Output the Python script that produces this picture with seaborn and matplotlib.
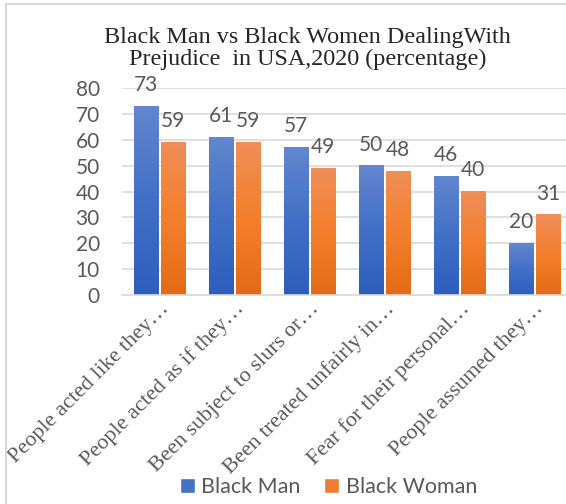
import matplotlib
matplotlib.use("Agg")
import matplotlib.pyplot as plt
from matplotlib.colors import LinearSegmentedColormap
import seaborn as sns
import numpy as np
import pandas as pd

categories = [
    "People acted like they\u2026",
    "People acted as if they\u2026",
    "Been subject to slurs or\u2026",
    "Been treated unfairly in\u2026",
    "Fear for their personal\u2026",
    "People assumed they\u2026",
]
black_man = [73, 61, 57, 50, 46, 20]
black_woman = [59, 59, 49, 48, 40, 31]
series = ["Black Man", "Black Woman"]
yticks = [0, 10, 20, 30, 40, 50, 60, 70, 80]

df = pd.DataFrame({
    "category": categories * 2,
    "value": black_man + black_woman,
    "series": [series[0]] * len(categories) + [series[1]] * len(categories),
})

sns.set_style("white")
plt.rcParams["font.family"] = ["Lato", "DejaVu Sans"]

fig = plt.figure(figsize=(5.66, 5.04), dpi=100)
ax = fig.add_axes([0.2155, 0.415, 0.795, 0.41])

palette = {"Black Man": "#4472C4", "Black Woman": "#ED7D31"}
sns.barplot(data=df, x="category", y="value", hue="series", palette=palette,
            width=0.72, gap=0.08, saturation=1, ax=ax, legend=True)

# office-style vertical gradient on each bar
grads = [
    LinearSegmentedColormap.from_list("b", ["#2E5EBD", "#4270C6", "#6386CF"]),
    LinearSegmentedColormap.from_list("o", ["#E26B17", "#F47F2C", "#EF8E58"]),
]
ramp = np.linspace(0, 1, 256).reshape(-1, 1)
for cmap, cont in zip(grads, ax.containers):
    for bar in cont:
        x, w, h = bar.get_x(), bar.get_width(), bar.get_height()
        ax.imshow(ramp, cmap=cmap, origin="lower", aspect="auto",
                  extent=[x, x + w, 0, h], zorder=bar.get_zorder() + 0.1)
ax.set_xlim(-0.5, len(categories) - 0.5)

grey = "#595959"
for cont in ax.containers:
    ax.bar_label(cont, padding=8, fontsize=15, color=grey)

ax.set_ylim(0, 80)
ax.set_yticks(yticks)
ax.tick_params(axis="y", labelsize=15, labelcolor=grey, length=0, pad=16)
ax.tick_params(axis="x", length=0, pad=3)
ax.set_xticks(range(len(categories)))
ax.set_xticklabels(categories, rotation=45, ha="right", va="top", rotation_mode="anchor",
                   fontsize=16, color=grey, family=["Liberation Serif", "DejaVu Serif"])
ax.yaxis.grid(True, color="#D9D9D9", linewidth=1.2)
ax.set_axisbelow(True)
for s in ["top", "right", "left"]:
    ax.spines[s].set_visible(False)
ax.spines["bottom"].set_color("#D9D9D9")
ax.spines["bottom"].set_linewidth(1.2)
ax.spines["bottom"].set_zorder(5)
ax.set_xlabel("")
ax.set_ylabel("")

ax.legend(loc="center", bbox_to_anchor=(0.58, 0.034), bbox_transform=fig.transFigure,
          ncol=2, frameon=False, fontsize=15.5, handlelength=0.7, handleheight=0.7,
          handletextpad=0.3, columnspacing=1.1, labelcolor=grey)

fig.text(0.543, 0.903, "Black Man vs Black Women DealingWith\nPrejudice  in USA,2020 (percentage)",
         ha="center", va="center", fontsize=17.4, family=["Liberation Serif", "DejaVu Serif"],
         linespacing=1.05)

fig.patches.append(plt.Rectangle((0.011, -0.1), 1.2, 1.092, transform=fig.transFigure,
                                 fill=False, edgecolor="#D9D9D9", linewidth=1.5))

fig.savefig("out.png", dpi=100)
